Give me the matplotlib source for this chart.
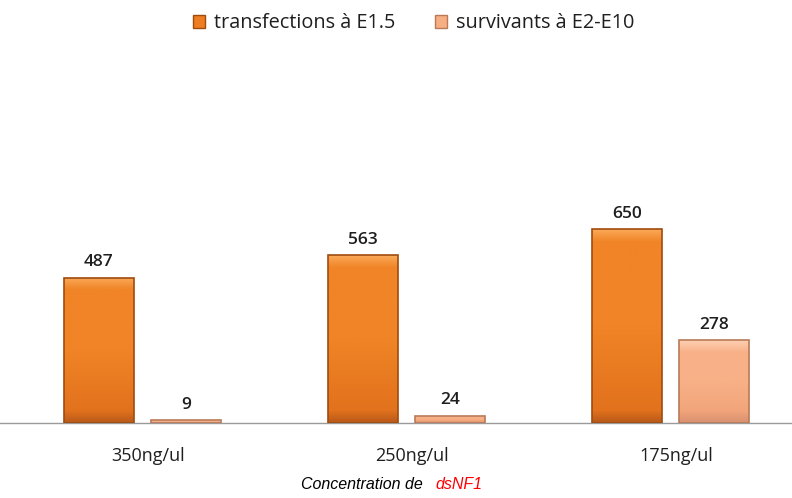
import numpy as np
import matplotlib
matplotlib.use('Agg')
import matplotlib.pyplot as plt
from matplotlib.patches import Patch
from matplotlib.colors import LinearSegmentedColormap

# données
categories = ['350ng/ul', '250ng/ul', '175ng/ul']
transfections = [487, 563, 650]
survivants = [9, 24, 278]
series_names = ['transfections à E1.5', 'survivants à E2-E10']

orange = '#EE7D22'
orange_edge = '#9E4C0E'
pink = '#F7AE83'
pink_edge = '#B97A58'

plt.rcParams['font.family'] = ['Open Sans', 'DejaVu Sans']

fig = plt.figure(figsize=(7.92, 4.98), dpi=100)
ax = fig.add_axes([0.0, 75 / 498, 1.0, 363 / 498])

x = np.arange(len(categories))
width = 0.265
off = 0.166

bars1 = ax.bar(x - off, transfections, width, color=orange, edgecolor=orange_edge, linewidth=1.2, zorder=2)
bars2 = ax.bar(x + off, survivants, width, color=pink, edgecolor=pink_edge, linewidth=1.2, zorder=2)


def gradient(bars, c_top, c_mid, c_low, c_bot):
    # léger biseau : bande claire en haut, plus sombre en bas
    for b in bars:
        h_px = max(b.get_height() * 363 / 1218, 1)
        t = min(12 / h_px, 0.3)
        cmap = LinearSegmentedColormap.from_list(
            'g', [(0, c_bot), (t, c_low), (0.5, c_mid), (1 - t, c_mid), (1, c_top)])
        grad = np.linspace(0, 1, 128).reshape(-1, 1)
        x0, y0 = b.get_x(), b.get_y()
        im = ax.imshow(grad, cmap=cmap, aspect='auto', origin='lower',
                       extent=[x0, x0 + b.get_width(), y0, y0 + b.get_height()],
                       zorder=2.5)
        im.set_clip_path(b)


gradient(bars1, '#FBA858', '#F08426', '#E2721D', '#B9591A')
gradient(bars2, '#FDD0B2', '#F8B087', '#F2A57A', '#D89070')
for b in list(bars1) + list(bars2):
    b.set_facecolor('none')
    b.set_zorder(3)

# étiquettes de valeur au-dessus des barres
for bars, vals in ((bars1, transfections), (bars2, survivants)):
    for b, v in zip(bars, vals):
        ax.text(b.get_x() + b.get_width() / 2, v + 25, str(v),
                ha='center', va='bottom', fontsize=12.5, fontweight='semibold', color='#1f1f1f')

ax.set_xlim(-0.54, 2.46)
ax.set_ylim(0, 1218)
ax.set_yticks([])
ax.set_xticks(x + 0.02)
ax.set_xticklabels(categories, fontsize=13, color='#1f1f1f')
ax.tick_params(axis='x', length=0, pad=17)
for s in ['top', 'right', 'left']:
    ax.spines[s].set_visible(False)
ax.spines['bottom'].set_color('#9a9a9a')
ax.spines['bottom'].set_linewidth(1.0)

handles = [Patch(facecolor=orange, edgecolor=orange_edge),
           Patch(facecolor=pink, edgecolor=pink_edge)]
fig.legend(handles, series_names, loc='center', bbox_to_anchor=(0.522, 0.953),
           ncol=2, frameon=False, fontsize=14.3, handlelength=0.6, handleheight=0.6,
           handletextpad=0.45, columnspacing=2.0, labelcolor='#1f1f1f')

# titre de l'axe x, avec dsNF1 en rouge
fig.text(301 / 792, 0.012, 'Concentration de ', fontsize=11.5, style='italic',
         family='Liberation Sans', ha='left', va='bottom', color='black')
fig.text(435 / 792, 0.012, 'dsNF1', fontsize=11.5, style='italic',
         family='Liberation Sans', ha='left', va='bottom', color='#FF0000')

fig.savefig('out.png', dpi=100)
